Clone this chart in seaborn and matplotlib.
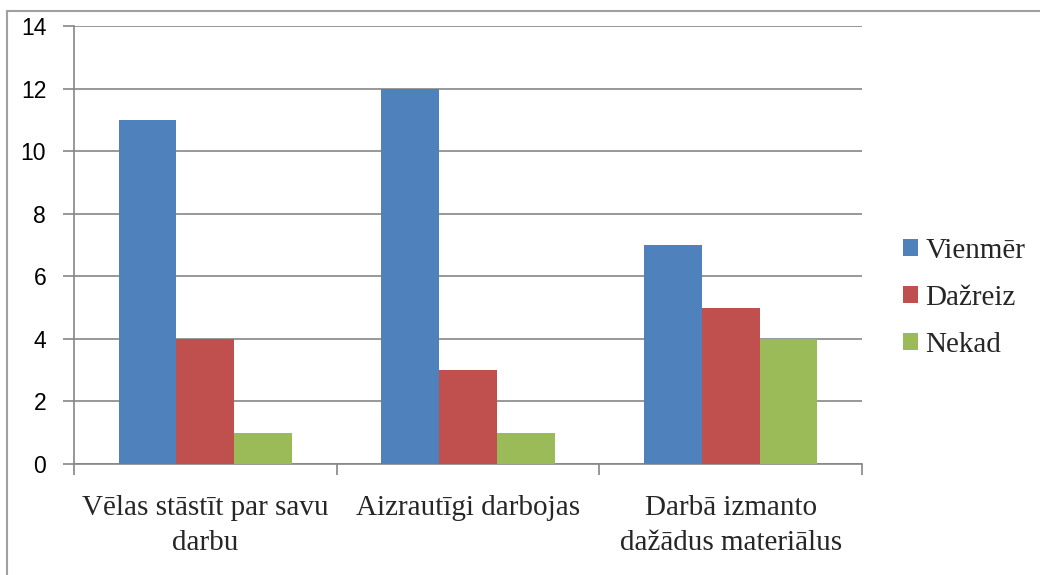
import matplotlib
matplotlib.use("Agg")
import matplotlib.pyplot as plt
import seaborn as sns
import pandas as pd
from matplotlib.lines import Line2D

categories = ["Vēlas stāstīt par savu\ndarbu", "Aizrautīgi darbojas", "Darbā izmanto\ndažādus materiālus"]
series = ["Vienmēr", "Dažreiz", "Nekad"]
vienmer = [11, 12, 7]
dazreiz = [4, 3, 5]
nekad = [1, 1, 4]
colors = ["#4F81BD", "#C0504D", "#9BBB59"]
yticks = [0, 2, 4, 6, 8, 10, 12, 14]

df = pd.DataFrame({
    "cat": categories * 3,
    "series": [series[0]] * 3 + [series[1]] * 3 + [series[2]] * 3,
    "value": vienmer + dazreiz + nekad,
})

sns.set_theme(style="white")
plt.rcParams['font.family'] = ['Liberation Serif', 'DejaVu Serif']

fig = plt.figure(figsize=(10.4, 5.75), dpi=100)
ax = fig.add_axes([74/1040, 1 - 464/575, (862-74)/1040, (464-26)/575])

sns.barplot(data=df, x="cat", y="value", hue="series", palette=colors,
            width=0.66, saturation=1, ax=ax, edgecolor="none", linewidth=0, zorder=3)

grid_c = "#868686"
ax.set_ylim(0, 14)
ax.set_xlim(-0.5, 2.5)
ax.set_yticks(yticks)
ax.set_yticklabels([str(v) for v in yticks], family=['Liberation Sans', 'DejaVu Sans'], fontsize=16.5)
ax.yaxis.grid(True, color=grid_c, linewidth=1.2, zorder=0)
ax.set_axisbelow(True)
ax.set_xlabel("")
ax.set_ylabel("")
for s in ["top", "right"]:
    ax.spines[s].set_visible(False)
for s in ["left", "bottom"]:
    ax.spines[s].set_color(grid_c)
    ax.spines[s].set_linewidth(1.2)

ax.tick_params(axis="y", which="major", left=True, length=8, width=1.2, color=grid_c, pad=12, labelcolor="black")
ax.set_xticks([0, 1, 2])
ax.set_xticklabels(categories, fontsize=21)
for t in ax.get_xticklabels():
    t.set_linespacing(1.45)
ax.tick_params(axis="x", which="major", length=0, pad=22)
ax.set_xticks([-0.5, 0.5, 1.5, 2.5], minor=True)
ax.tick_params(axis="x", which="minor", bottom=True, length=8, width=1.2, color=grid_c)

leg = ax.legend(loc="center left", bbox_to_anchor=(1.052, 0.379), frameon=False,
                fontsize=21, handlelength=0.52, handleheight=0.52, handletextpad=0.25,
                labelspacing=0.72, borderaxespad=0, borderpad=0)

fig.add_artist(Line2D([6.5/1040, 6.5/1040], [0, 1 - 10.5/575], transform=fig.transFigure, color="#A0A0A0", linewidth=1.5))
fig.add_artist(Line2D([6.5/1040, 1], [1 - 10.5/575, 1 - 10.5/575], transform=fig.transFigure, color="#A0A0A0", linewidth=1.5))

fig.savefig("out.png", dpi=100, facecolor="white")
